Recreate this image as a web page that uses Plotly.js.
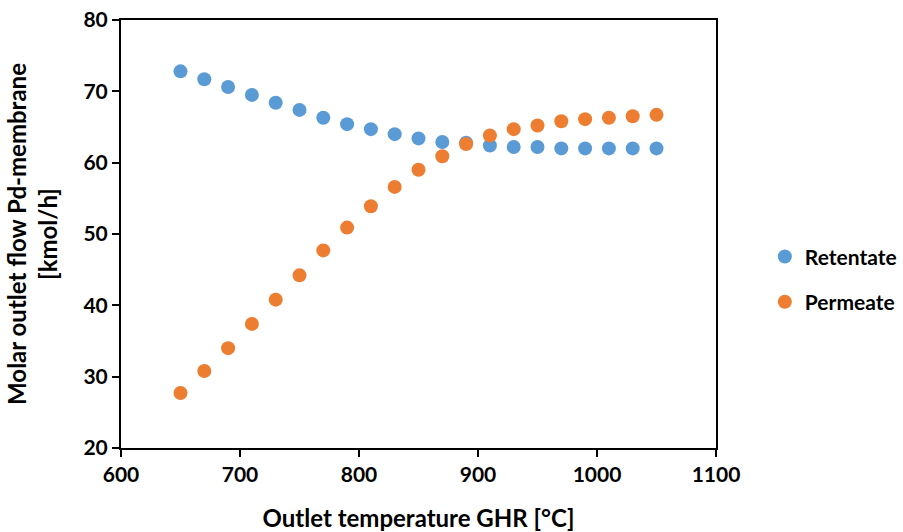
<!DOCTYPE html>
<html>
<head>
<meta charset="utf-8">
<script src="https://cdn.plot.ly/plotly-3.0.1.min.js"></script>
<style>html,body{margin:0;padding:0;background:#fff}#chart{width:903px;height:532px}</style>
</head>
<body>
<div id="chart"></div>
<script>
const temperature = [650,670,690,710,730,750,770,790,810,830,850,870,890,910,930,950,970,990,1010,1030,1050];
const retentate = [72.8,71.7,70.6,69.5,68.4,67.4,66.3,65.4,64.7,64.0,63.4,62.9,62.8,62.4,62.2,62.2,62.0,62.0,62.0,62.0,62.0];
const permeate = [27.7,30.8,34.0,37.4,40.8,44.2,47.7,50.9,53.9,56.6,59.0,60.9,62.6,63.8,64.7,65.2,65.8,66.1,66.3,66.5,66.7];
const xTicks = [600,700,800,900,1000,1100];
const yTicks = [20,30,40,50,60,70,80];

const font = "Lato, 'Open Sans', sans-serif";
const traces = [
  {x: temperature, y: retentate, name: 'Retentate', type: 'scatter', mode: 'markers',
   marker: {color: '#5B9BD5', size: 14}, legendgroup: 'a'},
  {x: temperature, y: permeate, name: 'Permeate', type: 'scatter', mode: 'markers',
   marker: {color: '#ED7D31', size: 14}, legendgroup: 'b'}
];
const axisCommon = {
  showgrid: false, zeroline: false, showline: true, linecolor: '#000', linewidth: 2,
  mirror: true, ticks: 'outside', ticklen: 7, tickwidth: 2, tickcolor: '#000',
  tickfont: {family: font, size: 21, color: '#000', weight: 'bold'}
};
const layout = {
  width: 903, height: 532,
  margin: {l: 121, r: 187, t: 20, b: 84},
  paper_bgcolor: '#fff', plot_bgcolor: '#fff',
  font: {family: font, color: '#000'},
  xaxis: Object.assign({}, axisCommon, {
    range: [600, 1100], tickvals: xTicks, ticktext: xTicks.map(String),
    title: {text: 'Outlet temperature GHR [°C]', font: {family: font, size: 24, color: '#000', weight: 'bold'}, standoff: 25}
  }),
  yaxis: Object.assign({}, axisCommon, {
    range: [20, 80], tickvals: yTicks, ticktext: yTicks.map(String),
    title: {text: 'Molar outlet flow Pd-membrane<br>[kmol/h]', font: {family: font, size: 24, color: '#000', weight: 'bold'}, standoff: 19}
  }),
  showlegend: true,
  legend: {
    xref: 'container', yref: 'container', x: 0.847, y: 0.475, xanchor: 'left', yanchor: 'middle',
    font: {family: font, size: 21, color: '#000', weight: 'bold'},
    traceorder: 'grouped', tracegroupgap: 15, itemwidth: 30, bgcolor: 'rgba(0,0,0,0)'
  }
};
Plotly.newPlot('chart', traces, layout, {displayModeBar: false, staticPlot: true});
</script>
</body>
</html>
